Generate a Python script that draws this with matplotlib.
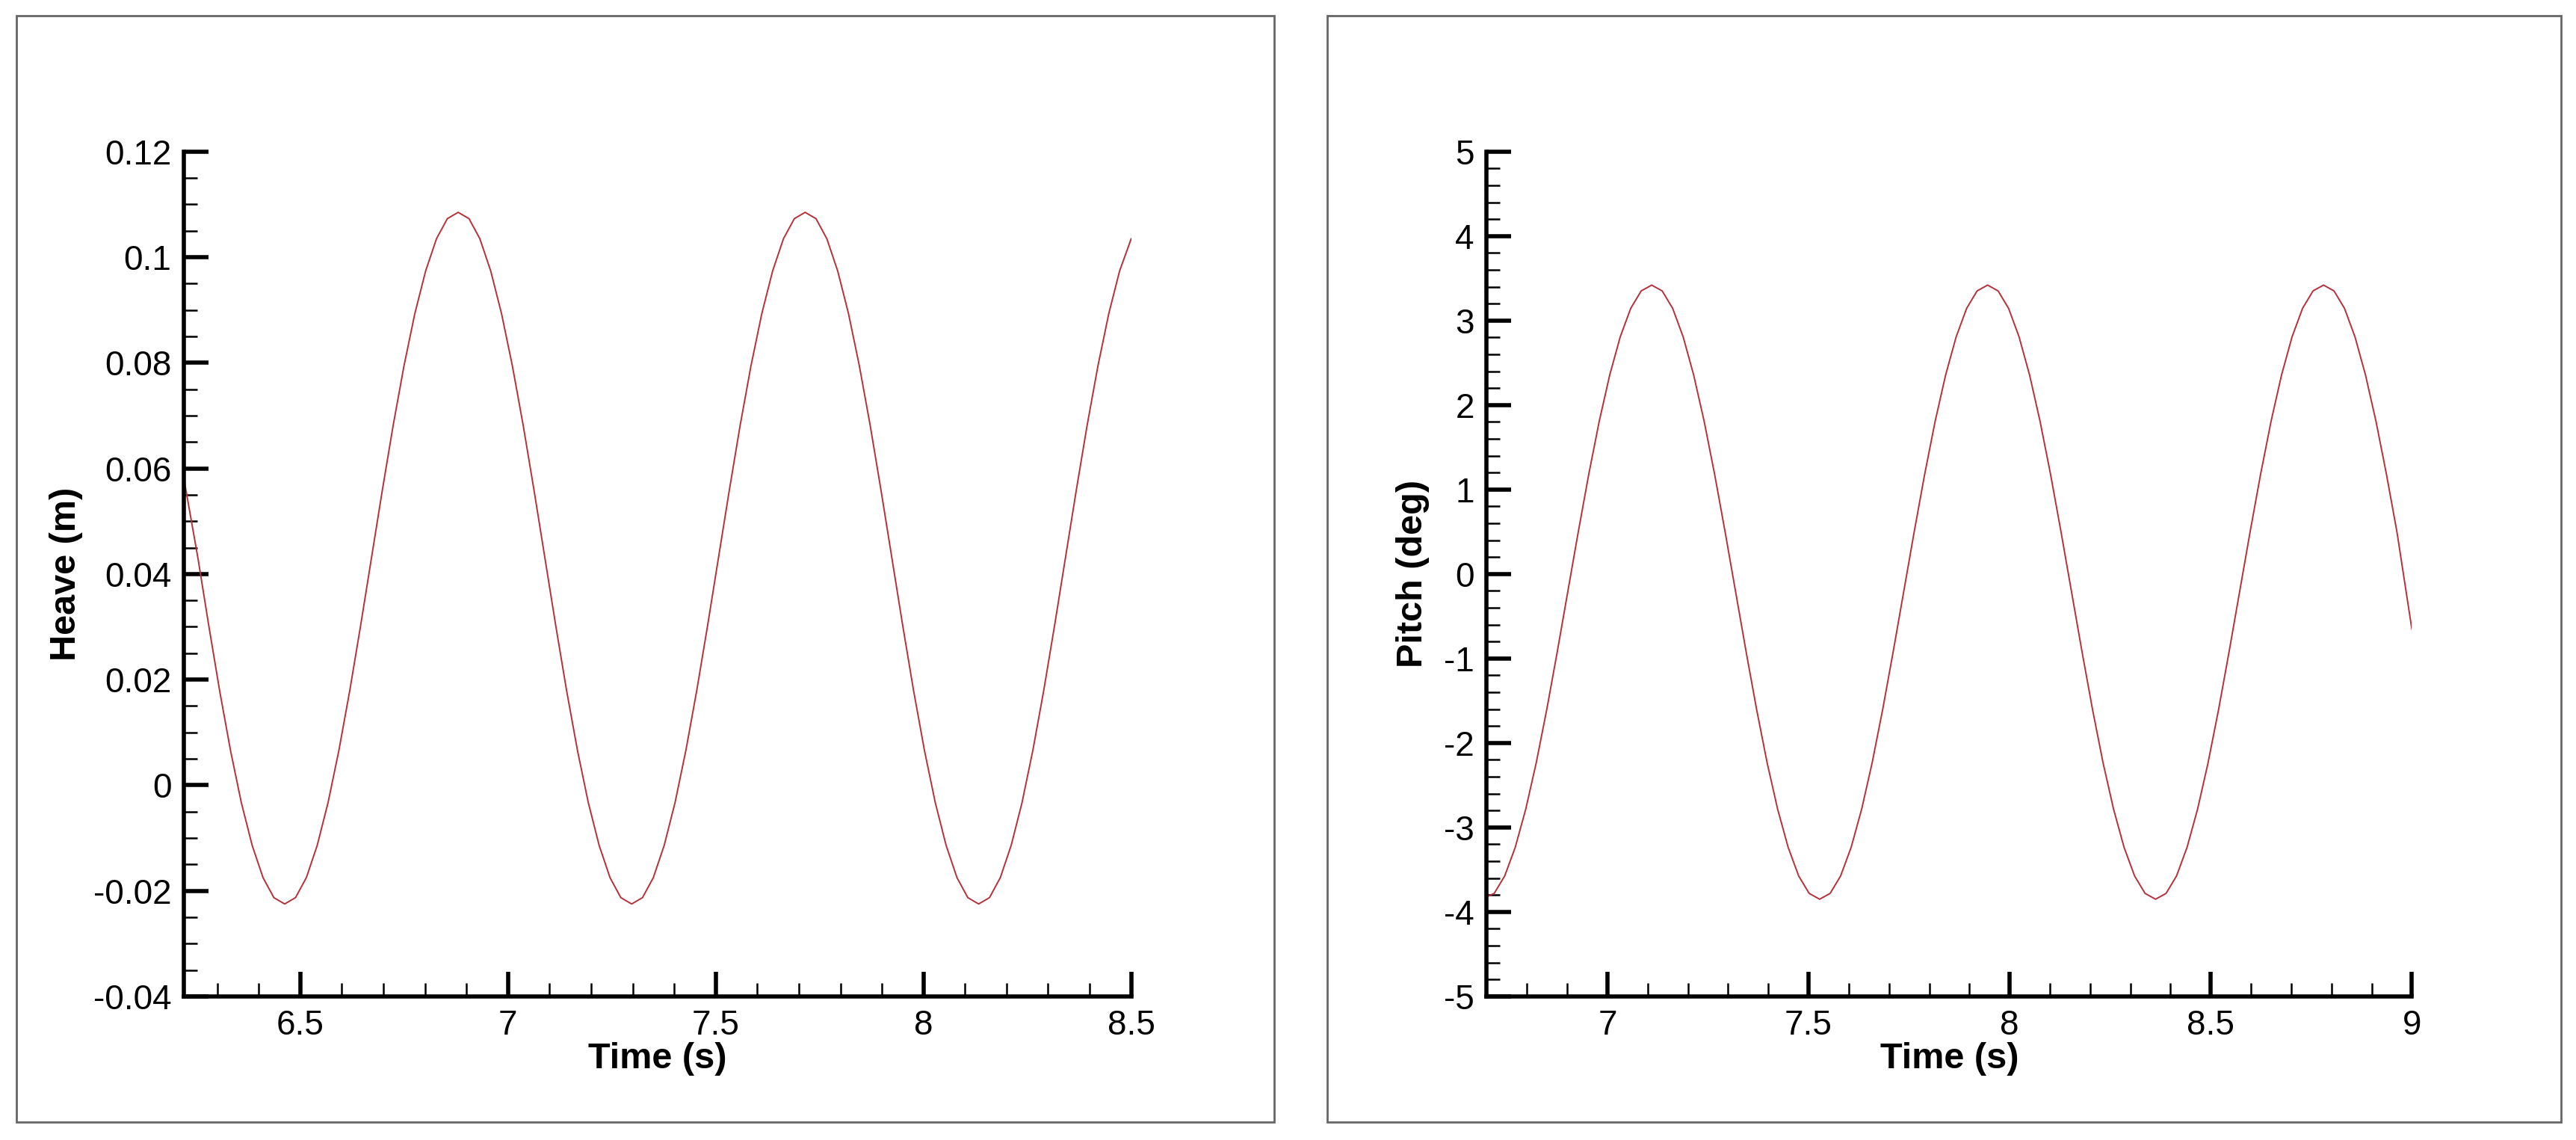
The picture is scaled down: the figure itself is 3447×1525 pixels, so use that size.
import numpy as np
import matplotlib
matplotlib.use("Agg")
import matplotlib.pyplot as plt
from matplotlib.ticker import MultipleLocator, FuncFormatter
from matplotlib.patches import Rectangle

plt.rcParams['font.family'] = ['Liberation Sans', 'DejaVu Sans']
plt.rcParams['axes.unicode_minus'] = False

dt = 0.0261
# half-cycle values (peak -> trough)
heave_half = [0.1085, 0.1073, 0.1035, 0.0974, 0.0893, 0.0794, 0.0681, 0.0558, 0.043,
              0.0302, 0.0179, 0.0066, -0.0033, -0.0114, -0.0175, -0.0213, -0.0225]
pitch_half = [3.42, 3.351, 3.144, 2.806, 2.355, 1.806, 1.177, 0.494, -0.215,
              -0.924, -1.607, -2.236, -2.785, -3.236, -3.574, -3.781, -3.85]
heave_cycle = heave_half + heave_half[-2:0:-1]
pitch_cycle = pitch_half + pitch_half[-2:0:-1]

heave_k = np.arange(-25, 63)
heave_vals = [heave_cycle[k % 32] for k in heave_k]
heave_time = list(np.round(6.88 + dt * heave_k, 4))
heave_vals[0] = 0.058
heave_time[0] = 6.22
heave_time[-1] = 8.5

pitch_k = np.arange(-16, 72)
pitch_vals = [pitch_cycle[k % 32] for k in pitch_k] + [-0.65]
pitch_time = list(np.round(7.11 + dt * pitch_k, 4)) + [9.0]
pitch_vals[0] = -3.82
pitch_time[0] = 6.70

fig = plt.figure(figsize=(34.48, 15.25), dpi=100)
fig.patches.append(Rectangle((0.0064, 0.016), 0.488, 0.970, transform=fig.transFigure,
                             fill=False, edgecolor='#666666', lw=2))
fig.patches.append(Rectangle((0.515, 0.016), 0.479, 0.970, transform=fig.transFigure,
                             fill=False, edgecolor='#666666', lw=2))

fmt = FuncFormatter(lambda v, p: ('%g' % round(v, 6)))

def style(ax, xmaj, xmin, ymaj, ymin):
    for s in ['top', 'right']:
        ax.spines[s].set_visible(False)
    for s in ['left', 'bottom']:
        ax.spines[s].set_linewidth(4)
    ax.xaxis.set_major_locator(MultipleLocator(xmaj))
    ax.xaxis.set_minor_locator(MultipleLocator(xmin))
    ax.yaxis.set_major_locator(MultipleLocator(ymaj))
    ax.yaxis.set_minor_locator(MultipleLocator(ymin))
    ax.xaxis.set_major_formatter(fmt)
    ax.yaxis.set_major_formatter(fmt)
    ax.tick_params(which='major', direction='in', length=24, width=4, labelsize=33, pad=12)
    ax.tick_params(which='minor', direction='in', length=13, width=1.8)

ax1 = fig.add_axes([0.0714, 0.126, 0.3676, 0.741])
ax1.plot(heave_time, heave_vals, color='#b5313a', lw=1.4)
ax1.set_xlim(6.22, 8.5)
ax1.set_ylim(-0.04, 0.12)
style(ax1, 0.5, 0.1, 0.02, 0.005)
ax1.set_xlabel('Time (s)', fontsize=35, fontweight='bold', labelpad=0)
ax1.set_ylabel('Heave (m)', fontsize=35, fontweight='bold', labelpad=10)

ax2 = fig.add_axes([0.577, 0.126, 0.359, 0.741])
ax2.plot(pitch_time, pitch_vals, color='#b5313a', lw=1.4)
ax2.set_xlim(6.7, 9.0)
ax2.set_ylim(-5, 5)
style(ax2, 0.5, 0.1, 1, 0.2)
ax2.set_xlabel('Time (s)', fontsize=35, fontweight='bold', labelpad=0)
ax2.set_ylabel('Pitch (deg)', fontsize=35, fontweight='bold', labelpad=14)

fig.savefig('out.png', dpi=100)
